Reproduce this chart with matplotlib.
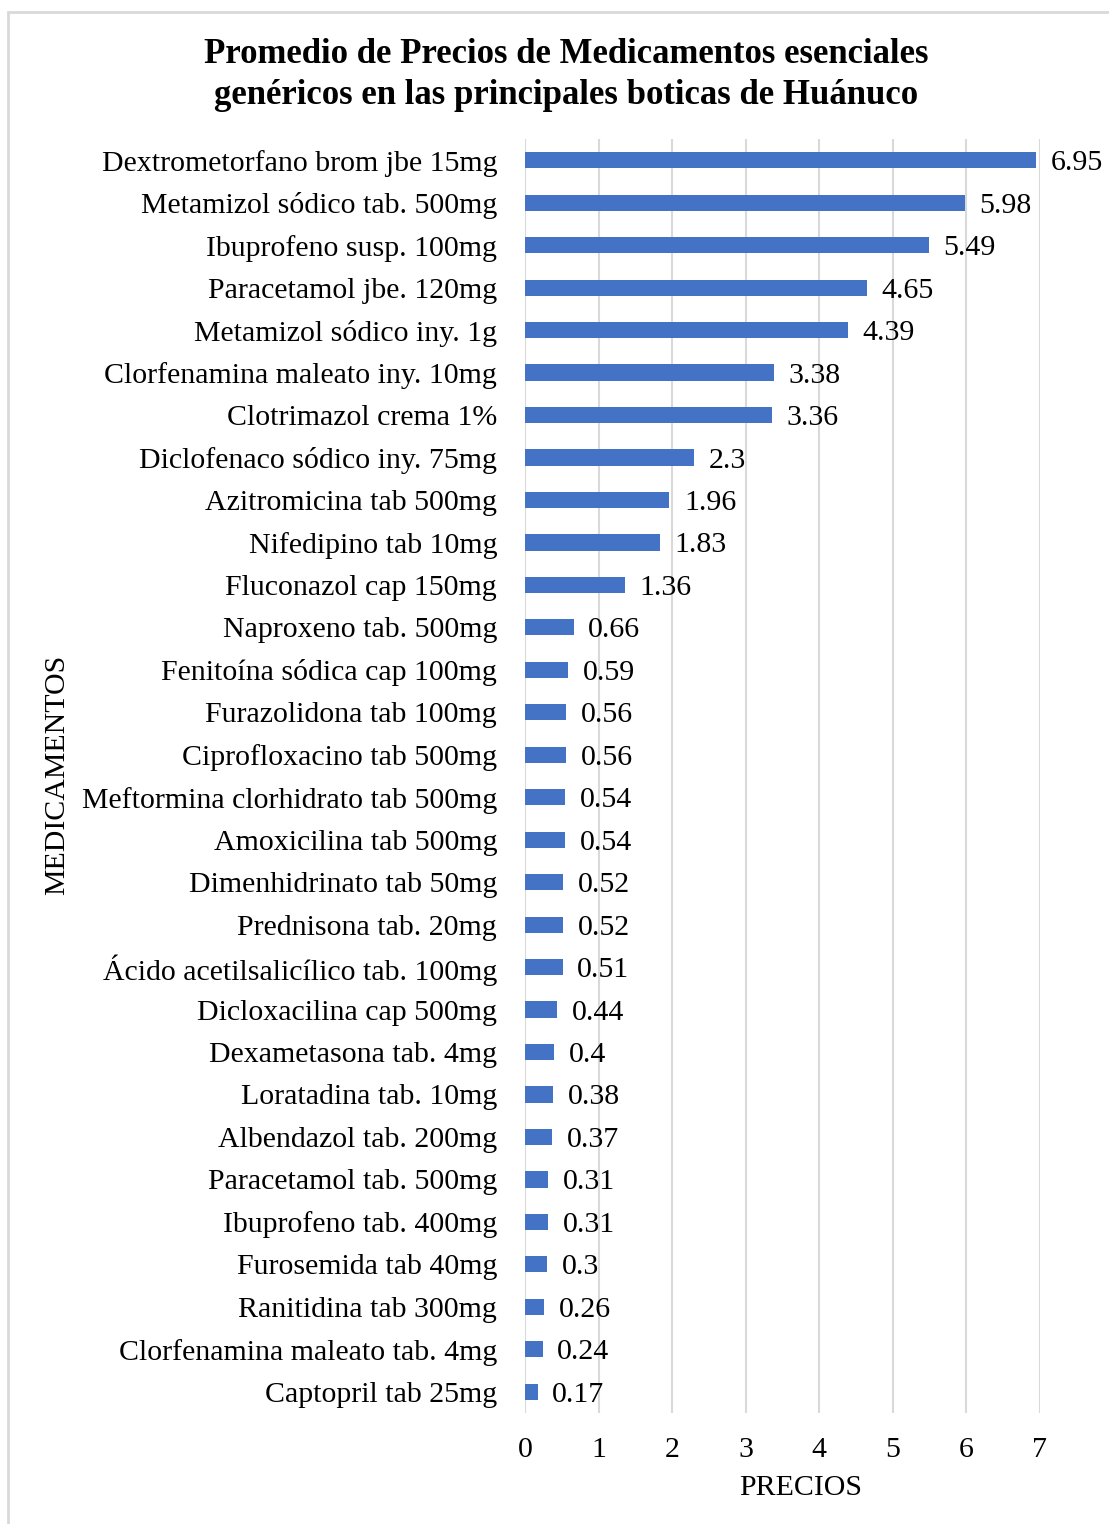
import matplotlib
matplotlib.use('Agg')
import matplotlib.pyplot as plt
from matplotlib.patches import Rectangle

medicamentos = [
    'Dextrometorfano brom jbe 15mg',
    'Metamizol sódico tab. 500mg',
    'Ibuprofeno susp. 100mg',
    'Paracetamol jbe. 120mg',
    'Metamizol sódico iny. 1g',
    'Clorfenamina maleato iny. 10mg',
    'Clotrimazol crema 1%',
    'Diclofenaco sódico iny. 75mg',
    'Azitromicina tab 500mg',
    'Nifedipino tab 10mg',
    'Fluconazol cap 150mg',
    'Naproxeno tab. 500mg',
    'Fenitoína sódica cap 100mg',
    'Furazolidona tab 100mg',
    'Ciprofloxacino tab 500mg',
    'Meftormina clorhidrato tab 500mg',
    'Amoxicilina tab 500mg',
    'Dimenhidrinato tab 50mg',
    'Prednisona tab. 20mg',
    'Ácido acetilsalicílico tab. 100mg',
    'Dicloxacilina cap 500mg',
    'Dexametasona tab. 4mg',
    'Loratadina tab. 10mg',
    'Albendazol tab. 200mg',
    'Paracetamol tab. 500mg',
    'Ibuprofeno tab. 400mg',
    'Furosemida tab 40mg',
    'Ranitidina tab 300mg',
    'Clorfenamina maleato tab. 4mg',
    'Captopril tab 25mg',
]
precios = [6.95, 5.98, 5.49, 4.65, 4.39, 3.38, 3.36, 2.3, 1.96, 1.83, 1.36,
           0.66, 0.59, 0.56, 0.56, 0.54, 0.54, 0.52, 0.52, 0.51, 0.44, 0.4,
           0.38, 0.37, 0.31, 0.31, 0.3, 0.26, 0.24, 0.17]
etiquetas = ['6.95', '5.98', '5.49', '4.65', '4.39', '3.38', '3.36', '2.3',
             '1.96', '1.83', '1.36', '0.66', '0.59', '0.56', '0.56', '0.54',
             '0.54', '0.52', '0.52', '0.51', '0.44', '0.4', '0.38', '0.37',
             '0.31', '0.31', '0.3', '0.26', '0.24', '0.17']

plt.rcParams['font.family'] = ['Liberation Serif', 'DejaVu Serif']
fs = 21.5

W, H = 1109, 1524
fig = plt.figure(figsize=(W / 100, H / 100), dpi=100)
ax = fig.add_axes([525 / W, 1 - 1413 / H, (1040 - 525) / W, (1413 - 139) / H])

pos = list(range(len(precios)))
ax.barh(pos, precios, height=0.38, color='#4472C4', zorder=3)
for p, v, t in zip(pos, precios, etiquetas):
    ax.text(v + 0.2, p, t, va='center_baseline', ha='left', fontsize=fs, zorder=4)

ax.set_ylim(len(precios) - 0.5, -0.5)
ax.set_xlim(0, 7)
ax.set_xticks(range(8))
ax.set_yticks(pos)
ax.set_yticklabels(medicamentos, fontsize=fs)
ax.tick_params(axis='x', labelsize=fs, length=0, pad=17)
ax.tick_params(axis='y', length=0, pad=20)
ax.grid(axis='x', color='#d9d9d9', linewidth=1.5, zorder=0)
for s in ax.spines.values():
    s.set_visible(False)

ax.set_xlabel('PRECIOS', fontsize=fs, va='center')
ax.xaxis.set_label_coords((801 - 525) / 515, -(1488 - 1413) / 1274)
fig.text(57 / W, 1 - 775 / H, 'MEDICAMENTOS', rotation=90, fontsize=fs,
         ha='center', va='center')

fig.text(566 / W, 1 - 75 / H,
         'Promedio de Precios de Medicamentos esenciales\ngenéricos en las principales boticas de Huánuco',
         ha='center', va='center', fontsize=25, fontweight='bold', linespacing=1.3)

fig.patches.append(Rectangle((8 / W, -0.05), 1.1, 1 - 12 / H + 0.05,
                             transform=fig.transFigure, fill=False,
                             edgecolor='#d9d9d9', linewidth=2))

fig.savefig('out.png', dpi=100)
